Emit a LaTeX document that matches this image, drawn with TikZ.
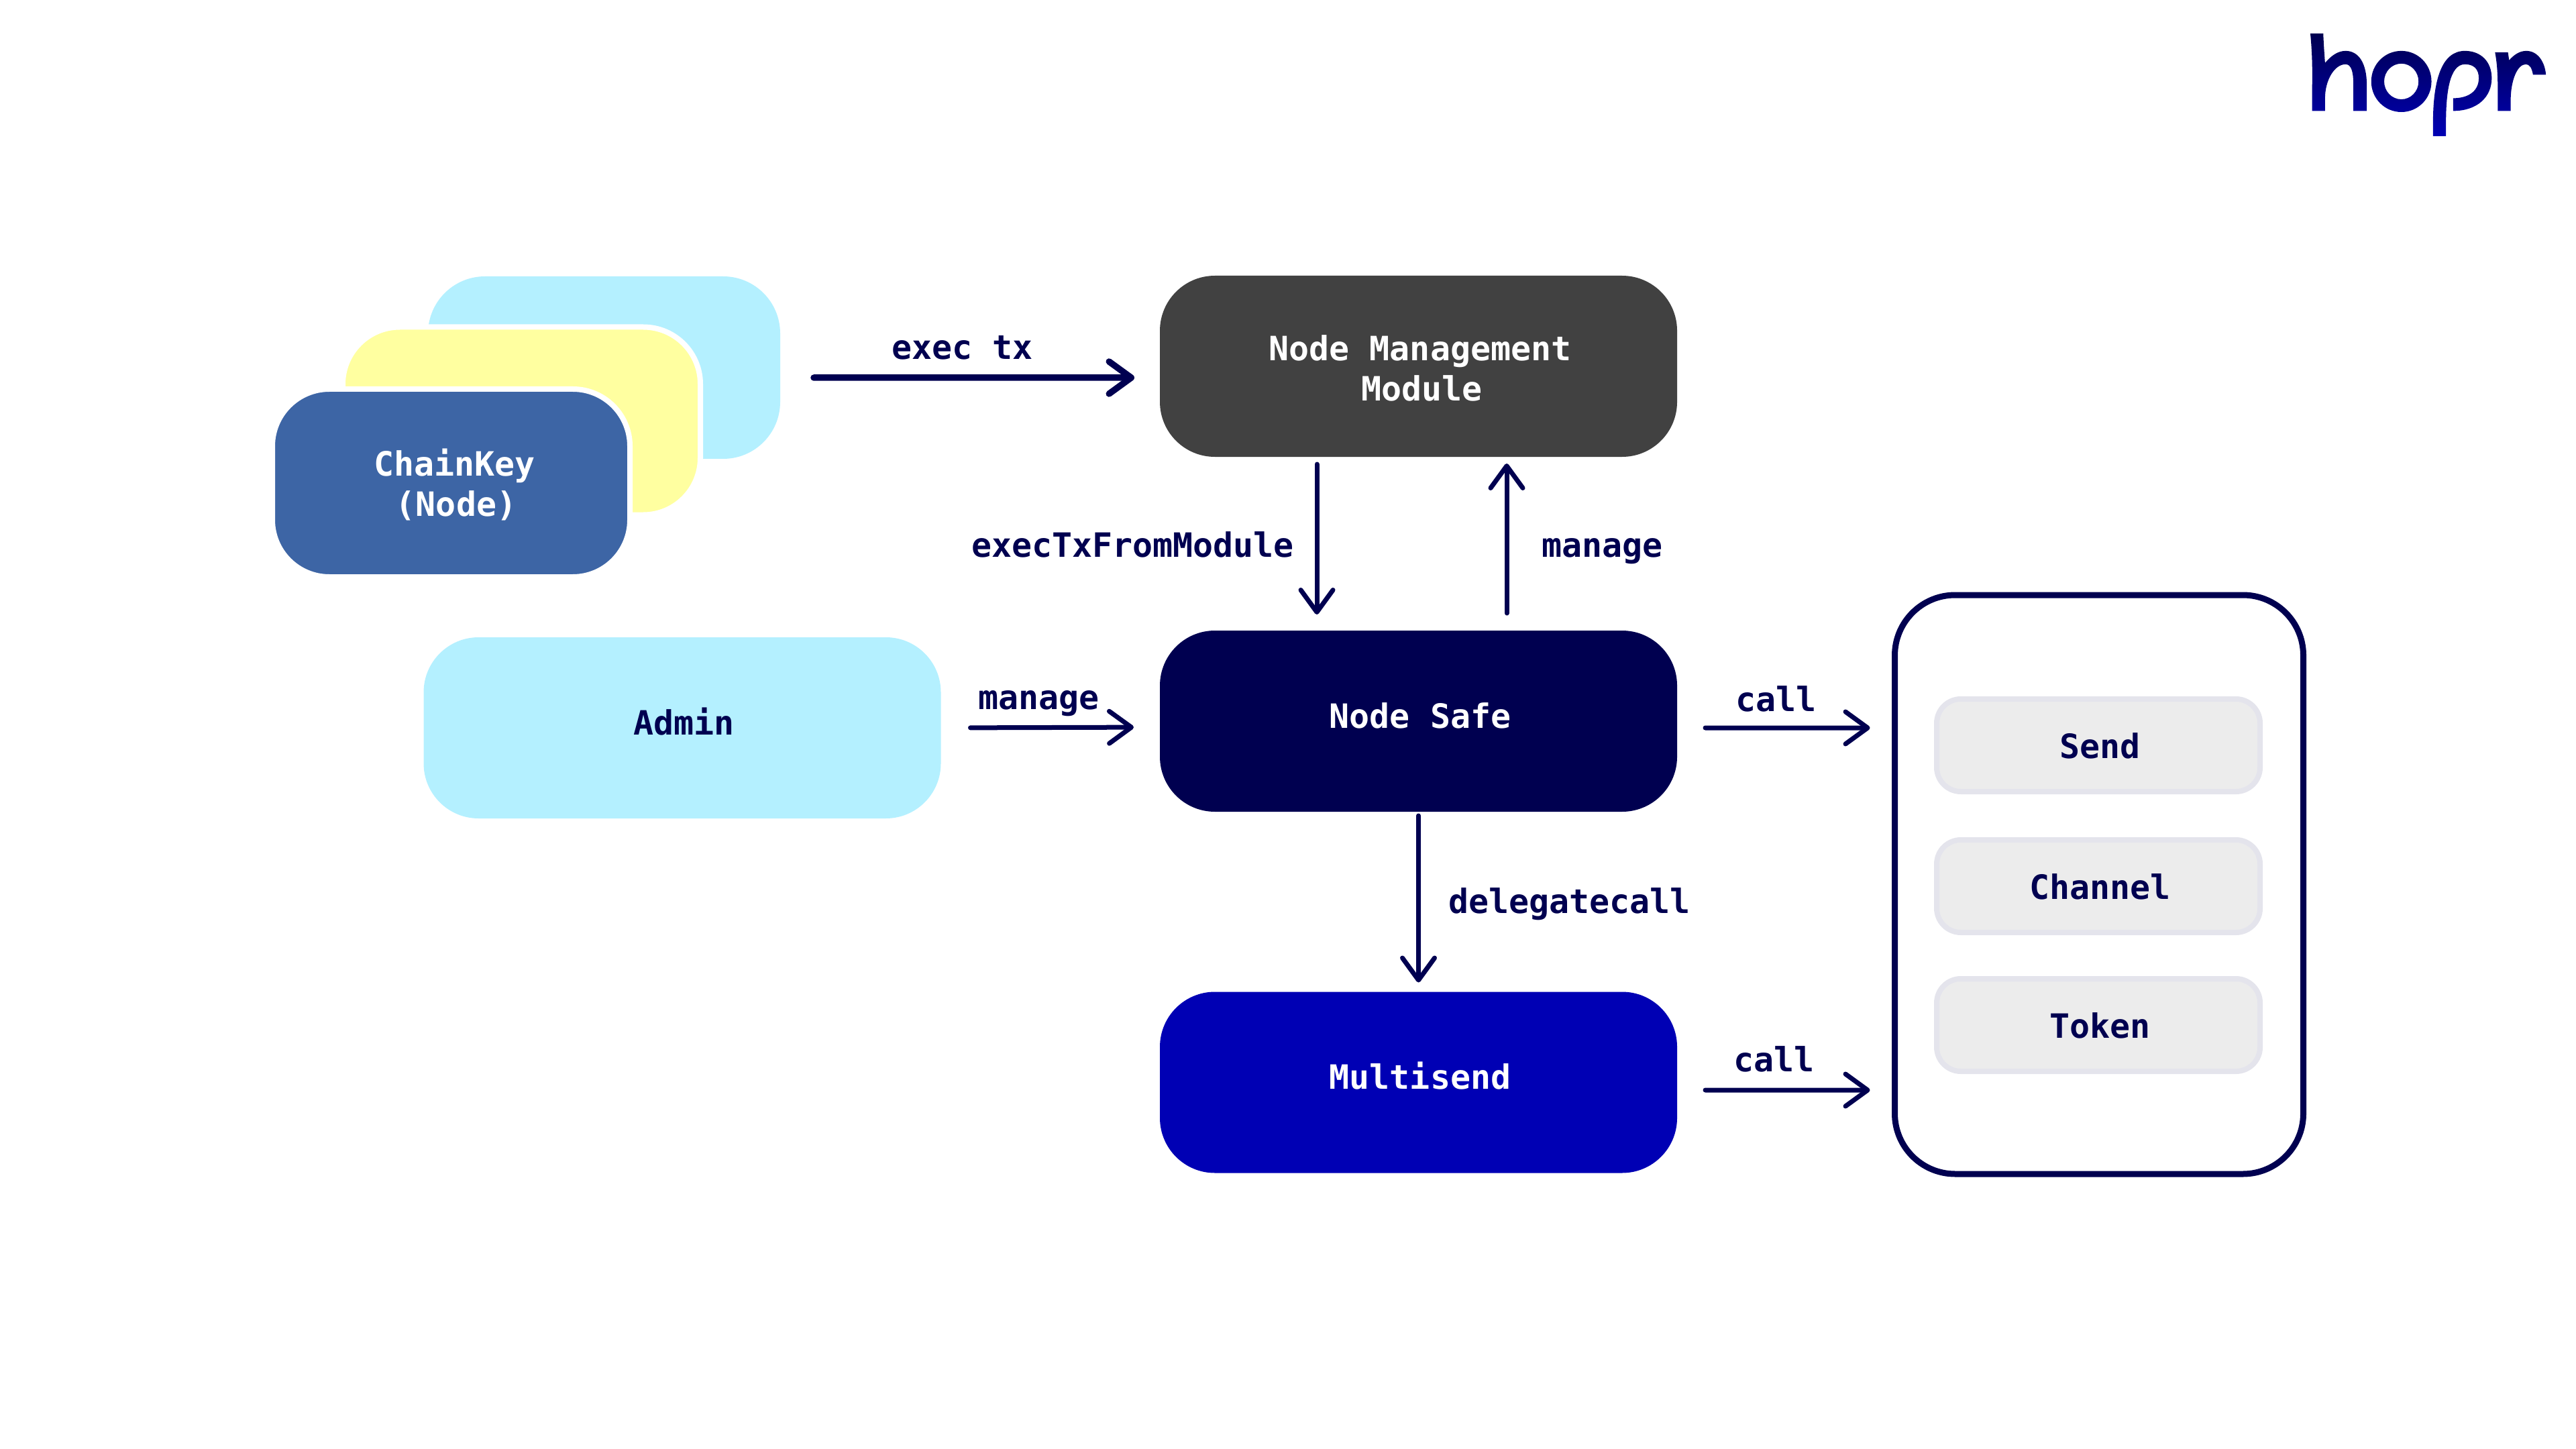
\documentclass[tikz,border=0pt]{standalone}
\usepackage{xcolor}
\usepackage{fontspec}
\setmonofont{DejaVu Sans Mono}
\usepackage{tikz}
\usetikzlibrary{arrows.meta,positioning}

\definecolor{navy}{HTML}{000050}
\definecolor{royal}{HTML}{0000B4}
\definecolor{sky}{HTML}{B4F0FF}
\definecolor{lemon}{HTML}{FFFFA0}
\definecolor{steel}{HTML}{3D65A5}
\definecolor{coal}{HTML}{414141}
\definecolor{opfill}{HTML}{ECECEC}
\definecolor{opline}{HTML}{E4E4EC}

\begin{document}
\begin{tikzpicture}[node distance=5.3cm,
    base/.style={rectangle, outer sep=0pt, align=center, font=\ttfamily\bfseries\fontsize{14.2pt}{17.07pt}\selectfont, execute at begin node={\kern0.05cm}},
    block/.style={base, rounded corners=0.82cm, minimum width=7.71cm, minimum height=2.70cm, text=white},
    key/.style={base, rounded corners=0.85cm, minimum width=5.33cm, minimum height=2.80cm, draw=white, line width=0.08cm},
    opbox/.style={base, rounded corners=0.36cm, draw=opline, fill=opfill, line width=0.08cm, minimum width=4.82cm, minimum height=1.38cm, text=navy, text height=0.38cm, text depth=0cm},
    lbl/.style={base, anchor=base, text=navy},
    line/.style={draw=navy, line width=0.07cm, line cap=round, -{Straight Barb[length=0.33cm, width=0.48cm, round]}}]

    \useasboundingbox (0,0) rectangle (38.4,-21.6);

    % Keys
    \node [key, draw=none, fill=sky, minimum width=5.25cm, minimum height=2.72cm] (keyback) at (9.005,-5.48) {};
    \node [key, fill=lemon] (keymid) at (7.775,-6.275) {};
    \node [key, fill=steel, text=white] (chainkey) at (6.725,-7.20) {\kern0.05cm\rule{0pt}{0.46cm}ChainKey\\\kern0.10cm(Node)};

    % Nodes
    \node [block, fill=coal] (module) at (21.145,-5.46) {\rule{0pt}{0.43cm}Node Management\\\kern0.05cm Module};
    \node [block, fill=navy, below of=module, node distance=5.29cm, text height=0.3cm, text depth=0.1cm] (safe) {Node Safe};
    \node [block, fill=royal, below of=safe, node distance=5.385cm, text height=0.3cm, text depth=0.1cm] (multisend) {Multisend};
    \node [block, fill=sky, text=navy, left of=safe, node distance=10.975cm, yshift=-0.10cm, text height=0.3cm, text depth=0.1cm] (admin) {Admin};

    % Targets
    \node [base, draw=navy, line width=0.09cm, rounded corners=0.9cm, minimum width=6.09cm, minimum height=8.63cm] (targets) at (31.29,-13.185) {};
    \node [opbox] (send) at (31.28,-11.11) {Send};
    \node [opbox, below of=send, node distance=2.10cm] (channel) {Channel};
    \node [opbox, below of=channel, node distance=2.07cm] (token) {Token};

    % Paths
    \path [line, line width=0.095cm, shorten <=0.50cm, shorten >=0.38cm] ([yshift=-0.15cm]keyback.east) -- ([yshift=-0.17cm]module.west);
    \path [line, shorten <=0.11cm, shorten >=0.24cm] ([xshift=-1.515cm]module.south) -- ([xshift=-1.515cm]safe.north);
    \path [line, shorten <=0.26cm, shorten >=0.10cm] ([xshift=1.315cm]safe.north) -- ([xshift=1.315cm]module.south);
    \path [line, shorten <=0.44cm, shorten >=0.39cm] (admin.east) -- ([yshift=-0.09cm]safe.west);
    \path [line, shorten <=0.42cm, shorten >=0.37cm] ([yshift=-0.10cm]safe.east) -- ([yshift=2.335cm]targets.west);
    \path [line, shorten <=0.42cm, shorten >=0.37cm] ([yshift=-0.115cm]multisend.east) -- ([yshift=-3.065cm]targets.west);
    \path [line, shorten <=0.06cm, shorten >=0.14cm] (safe.south) -- (multisend.north);

    % Labels
    \node [lbl] (lblexec) at (14.32,-5.35) {exec tx};
    \node [lbl] (lblfrom) at (16.86,-8.30) {execTxFromModule};
    \node [lbl] (lblup) at (23.86,-8.30) {manage};
    \node [lbl] (lbladmin) at (15.46,-10.57) {manage};
    \node [lbl] (lblcall) at (26.45,-10.60) {call};
    \node [lbl] (lbldelegate) at (23.37,-13.61) {delegatecall};
    \node [lbl] (lblsend) at (26.42,-15.97) {call};

    % Logo
    \begin{scope}[shift={(34,-0.2)}, x=0.0033333cm, y=-0.0033333cm]
    \shade [top color=navy, bottom color=royal, even odd rule]
        (132,90) -- (190,90) .. controls (192,140) and (195,180) .. (198,222) .. controls (225,190) and (255,168) .. (290,168) .. controls (350,168) and (385,225) .. (385,320) -- (385,437) -- (325,437) -- (325,320) .. controls (325,260) and (315,228) .. (290,228) .. controls (240,228) and (198,300) .. (198,380) -- (198,437) -- (140,437) -- (140,340) .. controls (142,250) and (140,170) .. (132,90) -- cycle
        (405,305) .. controls (405,229) and (465,168) .. (540,168) .. controls (615,168) and (675,229) .. (675,305) .. controls (675,381) and (615,442) .. (540,442) .. controls (465,442) and (405,381) .. (405,305) -- cycle
        (463,305) .. controls (463,261) and (497,225) .. (540,225) .. controls (583,225) and (617,261) .. (617,305) .. controls (617,349) and (583,385) .. (540,385) .. controls (497,385) and (463,349) .. (463,305) -- cycle
        (682,550) -- (740,550) -- (740,490) .. controls (740,360) and (755,228) .. (825,228) .. controls (865,228) and (887,250) .. (887,290) .. controls (887,345) and (845,380) .. (772,380) -- (772,437) .. controls (880,437) and (945,375) .. (945,290) .. controls (945,215) and (895,168) .. (825,168) .. controls (720,168) and (682,300) .. (682,490) -- cycle
        (960,175) -- (1018,175) -- (1023,210) .. controls (1045,185) and (1070,168) .. (1100,168) .. controls (1150,168) and (1183,215) .. (1188,275) -- (1130,275) .. controls (1125,245) and (1115,228) .. (1098,228) .. controls (1060,228) and (1030,300) .. (1030,390) -- (1030,437) -- (972,437) -- (972,340) .. controls (972,280) and (970,230) .. (960,175) -- cycle;
    \end{scope}

\end{tikzpicture}
\end{document}
